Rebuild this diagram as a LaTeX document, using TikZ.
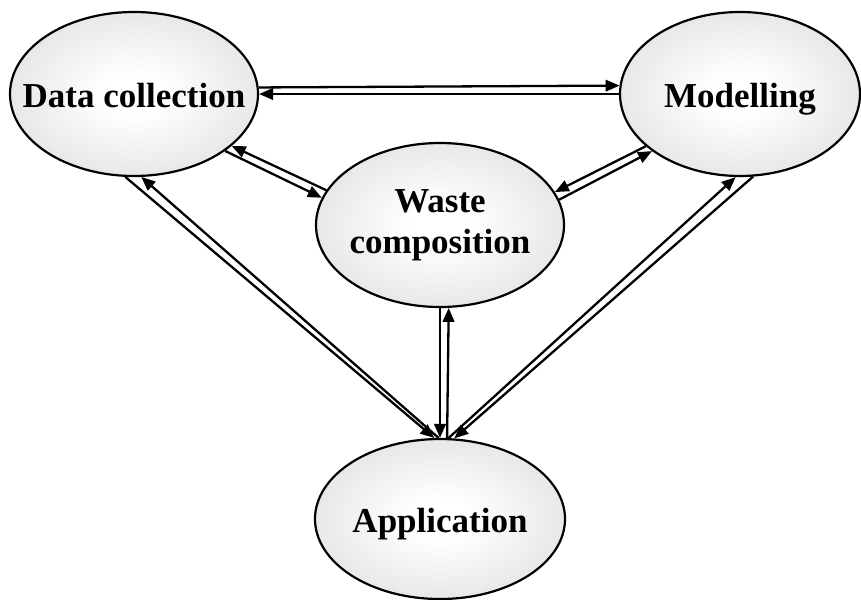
\documentclass[tikz,border=0pt]{standalone}
\usepackage{fontspec}
\setmainfont{Liberation Serif}
\usetikzlibrary{arrows.meta,shapes.geometric}
\pgfdeclareradialshading{ellshade}{\pgfpoint{0bp}{0bp}}{color(0bp)=(white); color(6bp)=(white); color(50bp)=(black!21)}
\tikzset{
  ell/.style={ellipse, draw, line width=2.2pt, shade, shading=ellshade,
    minimum width=248pt, minimum height=164pt, inner xsep=-25pt, inner ysep=0pt,
    align=center, font=\bfseries\fontsize{35}{41}\selectfont},
  oneline/.style={text height=26pt, text depth=0pt},
  arr/.style={line width=2.3pt, -{Triangle[length=14pt,width=11.5pt]}},
}
\begin{document}
\begin{tikzpicture}[x=1pt,y=-1pt]
\useasboundingbox (0,0) rectangle (861,599);
\node[ell, oneline] (dc) at (134,94) {Data collection};
\node[ell, oneline, minimum width=240pt] (mo) at (740,94) {Modelling};
\node[ell] (wc) at (440,225) {Waste\\composition};
\node[ell, oneline, minimum width=250pt, minimum height=160pt] (ap) at (440,519) {Application};
% Data collection <-> Modelling
\draw[arr] (dc.3.6) -- (mo.176.2);
\draw[arr] (mo.180) -- (dc.0);
% Data collection <-> Waste composition
\draw[arr] (wc.163.1) -- (dc.-28.9);
\draw[arr] (dc.-32.1) -- (wc.167);
% Waste composition <-> Modelling
\draw[arr] (mo.-151) -- (wc.16.9);
\draw[arr] (wc.12.9) -- (mo.-147.1);
% Data collection <-> Application
\draw[arr] (ap.91.4) -- (dc.-85.2);
\draw[arr] (dc.-96.1) -- (ap.94.9);
% Waste composition <-> Application
\draw[arr] (wc.-90) -- (ap.90);
\draw[arr] (ap.85.1) -- (wc.-84.6);
% Modelling <-> Application
\draw[arr] (ap.84.4) -- (mo.-93.4);
\draw[arr] (mo.-81.1) -- (ap.80.3);
\end{tikzpicture}
\end{document}
